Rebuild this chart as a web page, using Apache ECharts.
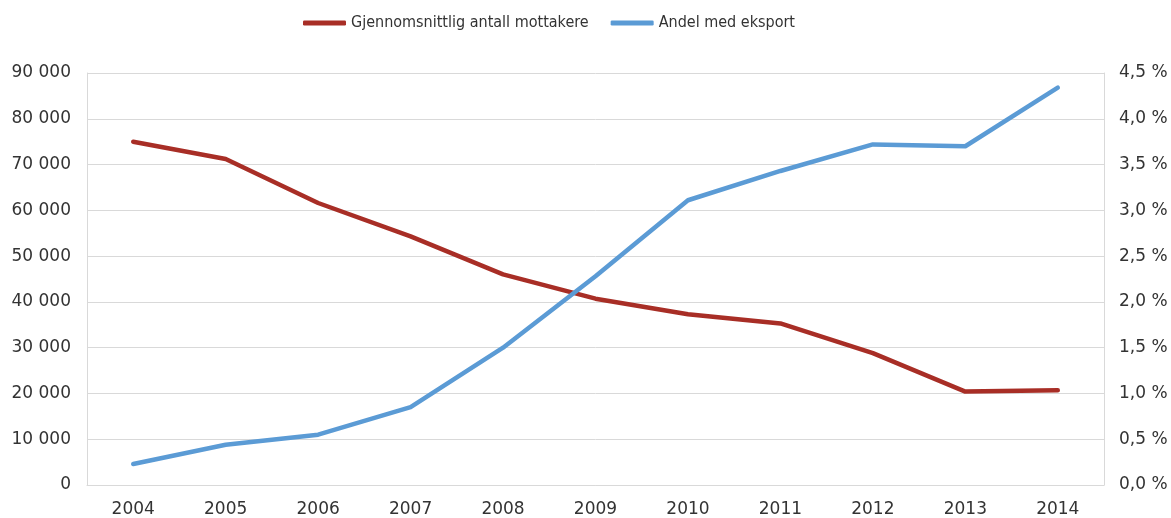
<!DOCTYPE html>
<html>
<head>
<meta charset="utf-8">
<script src="https://cdn.jsdelivr.net/npm/echarts@6/dist/echarts.min.js"></script>
<style>
html,body{margin:0;padding:0;background:#fff;}
#chart{width:1171px;height:518px;}
</style>
</head>
<body>
<div id="chart"></div>
<script>
var years = ['2004','2005','2006','2007','2008','2009','2010','2011','2012','2013','2014'];
var mottakere = [75000, 71200, 61600, 54300, 46000, 40700, 37300, 35300, 28800, 20400, 20700];
var eksport = [0.23, 0.44, 0.55, 0.85, 1.50, 2.28, 3.11, 3.43, 3.72, 3.70, 4.34];
var seriesNames = ['Gjennomsnittlig antall mottakere', 'Andel med eksport'];

var chart = echarts.init(document.getElementById('chart'));
var axisFont = {fontFamily: 'DejaVu Sans', fontSize: 17, color: '#333333'};
chart.setOption({
  animation: false,
  legend: {
    left: 298, top: 10,
    itemWidth: 43, itemHeight: 5, itemGap: 22,
    icon: 'roundRect',
    textStyle: {fontFamily: '"DejaVu Sans Condensed", "Liberation Sans", sans-serif', fontSize: 16, color: '#333333'},
    data: seriesNames
  },
  grid: {left: 87, right: 67, top: 73, bottom: 31},
  xAxis: {
    type: 'category', data: years, boundaryGap: true,
    axisTick: {show: false},
    axisLine: {lineStyle: {color: '#d9d9d9', width: 1}},
    axisLabel: Object.assign({margin: 16}, axisFont)
  },
  yAxis: [{
    type: 'value', min: 0, max: 90000, interval: 10000,
    axisLine: {show: true, lineStyle: {color: '#d9d9d9'}},
    axisTick: {show: false},
    splitLine: {lineStyle: {color: '#d9d9d9', width: 1}},
    axisLabel: Object.assign({margin: 16, formatter: function(v){
      return String(v).replace(/\B(?=(\d{3})+(?!\d))/g, ' ');
    }}, axisFont)
  }, {
    type: 'value', min: 0, max: 4.5, interval: 0.5,
    axisLine: {show: true, lineStyle: {color: '#d9d9d9'}},
    axisTick: {show: false},
    splitLine: {show: false},
    axisLabel: Object.assign({margin: 15, formatter: function(v){
      return v.toFixed(1).replace('.', ',') + ' %';
    }}, axisFont)
  }],
  series: [{
    name: seriesNames[0], type: 'line', yAxisIndex: 0, data: mottakere,
    showSymbol: false, symbol: 'none',
    itemStyle: {color: '#A82E26'},
    lineStyle: {color: '#A82E26', width: 4.5, cap: 'round', join: 'round'}
  }, {
    name: seriesNames[1], type: 'line', yAxisIndex: 1, data: eksport,
    showSymbol: false, symbol: 'none',
    itemStyle: {color: '#5B9BD5'},
    lineStyle: {color: '#5B9BD5', width: 4.5, cap: 'round', join: 'round'}
  }]
});
</script>
</body>
</html>
